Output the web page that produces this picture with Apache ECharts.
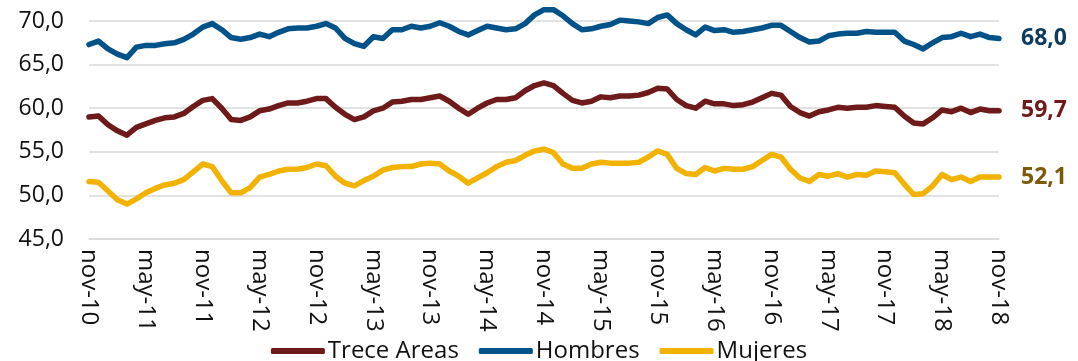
<!DOCTYPE html>
<html>
<head>
<meta charset="utf-8">
<style>
  html, body { margin: 0; padding: 0; background: #fff; }
  #chart { width: 1078px; height: 361px; }
</style>
<script src="https://cdn.jsdelivr.net/npm/echarts@6/dist/echarts.min.js"></script>
</head>
<body>
<div id="chart"></div>
<script>
// Monthly series, nov-10 to nov-18
const monthAbbr = ['ene','feb','mar','abr','may','jun','jul','ago','sep','oct','nov','dic'];
const categories = ['nov-10', 'dic-10'];
for (const yy of ['11','12','13','14','15','16','17']) {
  for (const m of monthAbbr) categories.push(m + '-' + yy);
}
for (const m of monthAbbr.slice(0, 11)) categories.push(m + '-18');

const seriesNames = ['Trece Areas', 'Hombres', 'Mujeres'];

const treceAreas = [
  59.0, 59.1, 58.1, 57.4, 56.9, 57.8, 58.2, 58.6, 58.9, 59.0,
  59.4, 60.2, 60.9, 61.1, 60.0, 58.7, 58.6, 59.0, 59.7, 59.9,
  60.3, 60.6, 60.6, 60.8, 61.1, 61.1, 60.1, 59.3, 58.7, 59.0,
  59.7, 60.0, 60.7, 60.8, 61.0, 61.0, 61.2, 61.4, 60.8, 60.0,
  59.3, 60.0, 60.6, 61.0, 61.0, 61.2, 62.0, 62.6, 62.9, 62.6,
  61.7, 60.9, 60.6, 60.8, 61.3, 61.2, 61.4, 61.4, 61.5, 61.8,
  62.3, 62.2, 61.0, 60.3, 60.0, 60.8, 60.5, 60.5, 60.3, 60.4,
  60.7, 61.2, 61.7, 61.5, 60.2, 59.5, 59.1, 59.6, 59.8, 60.1,
  60.0, 60.1, 60.1, 60.3, 60.2, 60.1, 59.1, 58.3, 58.2, 58.9,
  59.8, 59.6, 60.0, 59.5, 59.9, 59.7, 59.7
];

const hombres = [
  67.3, 67.7, 66.8, 66.2, 65.8, 67.0, 67.2, 67.2, 67.4, 67.5,
  67.9, 68.5, 69.3, 69.7, 69.0, 68.1, 67.9, 68.1, 68.5, 68.2,
  68.7, 69.1, 69.2, 69.2, 69.4, 69.7, 69.2, 68.0, 67.4, 67.1,
  68.2, 68.0, 69.0, 69.0, 69.4, 69.2, 69.4, 69.8, 69.4, 68.8,
  68.4, 68.9, 69.4, 69.2, 69.0, 69.1, 69.7, 70.7, 71.3, 71.3,
  70.6, 69.7, 69.0, 69.1, 69.4, 69.6, 70.1, 70.0, 69.9, 69.7,
  70.4, 70.7, 69.7, 69.0, 68.4, 69.3, 68.9, 69.0, 68.7, 68.8,
  69.0, 69.2, 69.5, 69.5, 68.8, 68.1, 67.6, 67.7, 68.3, 68.5,
  68.6, 68.6, 68.8, 68.7, 68.7, 68.7, 67.7, 67.3, 66.8, 67.5,
  68.1, 68.2, 68.6, 68.2, 68.5, 68.1, 68.0
];

const mujeres = [
  51.6, 51.5, 50.5, 49.5, 49.0, 49.6, 50.3, 50.8, 51.2, 51.4,
  51.8, 52.7, 53.6, 53.3, 51.7, 50.3, 50.3, 50.9, 52.1, 52.4,
  52.8, 53.0, 53.0, 53.2, 53.6, 53.4, 52.2, 51.4, 51.1, 51.7,
  52.2, 52.9, 53.2, 53.3, 53.3, 53.6, 53.7, 53.6, 52.8, 52.2,
  51.4, 52.0, 52.6, 53.3, 53.8, 54.0, 54.6, 55.1, 55.3, 54.9,
  53.6, 53.1, 53.1, 53.6, 53.8, 53.7, 53.7, 53.7, 53.8, 54.4,
  55.1, 54.7, 53.1, 52.5, 52.4, 53.2, 52.8, 53.1, 53.0, 53.0,
  53.3, 54.0, 54.7, 54.4, 53.0, 52.0, 51.6, 52.4, 52.2, 52.5,
  52.1, 52.4, 52.3, 52.8, 52.7, 52.6, 51.3, 50.1, 50.2, 51.1,
  52.4, 51.8, 52.1, 51.6, 52.1, 52.1, 52.1
];

const yTicks = { min: 45, max: 70, step: 5 };

const lineColors = ['#6E1A1A', '#005289', '#F2B200'];
const endLabelColors = ['#6E1A1A', '#0E3B5E', '#7B5A0C'];
const FONT = '"Open Sans", sans-serif';

const decimalComma = v => Number(v).toFixed(1).replace('.', ',');

function makeSeries(name, data, idx) {
  return {
    name: name,
    type: 'line',
    data: data,
    clip: false,
    showSymbol: false,
    symbol: 'none',
    lineStyle: { width: 5.5, color: lineColors[idx], cap: 'round', join: 'round' },
    itemStyle: { color: lineColors[idx] },
    endLabel: {
      show: true,
      distance: 22,
      formatter: p => decimalComma(p.value),
      color: endLabelColors[idx],
      fontFamily: FONT,
      fontWeight: 'bold',
      fontSize: 23
    },
    emphasis: { disabled: true }
  };
}

const chart = echarts.init(document.getElementById('chart'), null, { renderer: 'canvas' });

chart.setOption({
  animation: false,
  backgroundColor: '#ffffff',
  grid: { left: 89, right: 79, top: 21, bottom: 122 },
  legend: {
    bottom: -7,
    left: 'center',
    itemWidth: 54,
    itemHeight: 6,
    itemGap: 20,
    textStyle: { fontFamily: FONT, fontSize: 24, color: '#111', padding: [0, 0, 0, -2] },
    data: seriesNames.map(n => ({ name: n, icon: 'roundRect' }))
  },
  xAxis: {
    type: 'category',
    data: categories,
    boundaryGap: false,
    axisLine: { show: true, lineStyle: { color: '#D9D9D9', width: 1.5 } },
    axisTick: { show: false },
    axisLabel: {
      interval: 5,
      rotate: -90,
      margin: 10,
      fontFamily: FONT,
      fontSize: 24,
      color: '#111'
    },
    splitLine: { show: false }
  },
  yAxis: {
    type: 'value',
    min: yTicks.min,
    max: yTicks.max,
    interval: yTicks.step,
    axisLine: { show: false },
    axisTick: { show: false },
    axisLabel: {
      margin: 25,
      fontFamily: FONT,
      fontSize: 23,
      color: '#111',
      formatter: v => decimalComma(v)
    },
    splitLine: { show: true, lineStyle: { color: '#D9D9D9', width: 1.5 } }
  },
  series: [
    makeSeries(seriesNames[0], treceAreas, 0),
    makeSeries(seriesNames[1], hombres, 1),
    makeSeries(seriesNames[2], mujeres, 2)
  ]
});
</script>
</body>
</html>
